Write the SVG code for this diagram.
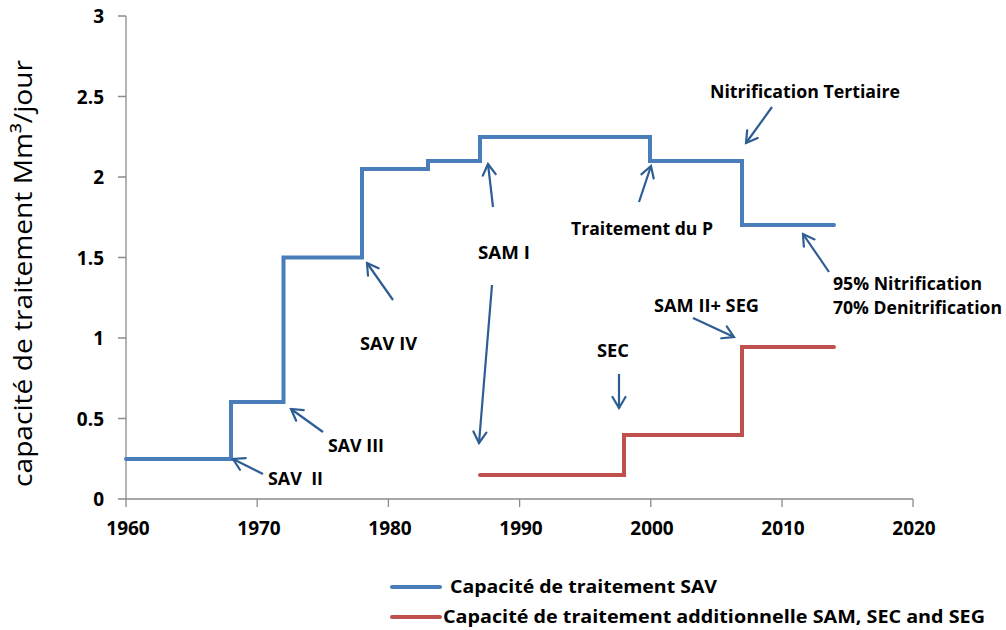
<svg xmlns="http://www.w3.org/2000/svg" width="1006" height="630" viewBox="0 0 1006 630">
  <style>
    .axis { stroke: #8c8c8c; stroke-width: 1.3; fill: none; }
    .tick { font-family: "Open Sans", "Liberation Sans", Arial, sans-serif; font-weight: bold; font-size: 19px; fill: #000; }
    .note { font-family: "Open Sans", "Liberation Sans", Arial, sans-serif; font-weight: bold; font-size: 17.5px; fill: #000; }
    .legend { font-family: "Open Sans", "Liberation Sans", Arial, sans-serif; font-weight: bold; font-size: 18px; fill: #000; }
    .title { font-family: "Open Sans", "Liberation Sans", Arial, sans-serif; font-size: 26px; fill: #000; }
    .sav { stroke: #4a7ebb; stroke-width: 4; fill: none; stroke-linejoin: miter; stroke-linecap: round; }
    .add { stroke: #c0504d; stroke-width: 4; fill: none; stroke-linejoin: miter; stroke-linecap: round; }
    .pointer { stroke: #2e5d93; stroke-width: 2.2; fill: none; marker-end: url(#head); }
  </style>
  <defs>
    <marker id="head" markerUnits="userSpaceOnUse" viewBox="-14 -8 16 16" refX="0" refY="0" markerWidth="16" markerHeight="16" orient="auto">
      <path d="M-11,-6.5 L0,0 L-11,6.5" fill="none" stroke="#2e5d93" stroke-width="2.2" stroke-linecap="round" stroke-linejoin="miter"/>
    </marker>
  </defs>

  <rect width="1006" height="630" fill="#fff"/>

  <!-- axes -->
  <g id="axes">
    <path class="axis" d="M126,16 V499 H913"/>
    <path class="axis" d="M118,16 H126 M118,96.5 H126 M118,177 H126 M118,257.5 H126 M118,338 H126 M118,418.5 H126 M118,499 H126"/>
    <path class="axis" d="M126,499 V507 M257.2,499 V507 M388.4,499 V507 M519.6,499 V507 M650.8,499 V507 M782,499 V507 M913,499 V507"/>
    <g class="tick" text-anchor="end">
      <text x="104" y="23">3</text>
      <text x="104" y="103.5">2.5</text>
      <text x="104" y="184">2</text>
      <text x="104" y="264.5">1.5</text>
      <text x="104" y="345">1</text>
      <text x="104" y="425.5">0.5</text>
      <text x="104" y="506">0</text>
    </g>
    <g class="tick" text-anchor="middle">
      <text x="128" y="535">1960</text>
      <text x="259" y="535">1970</text>
      <text x="390" y="535">1980</text>
      <text x="521" y="535">1990</text>
      <text x="652" y="535">2000</text>
      <text x="783" y="535">2010</text>
      <text x="914" y="535">2020</text>
    </g>
    <text class="title" transform="translate(32,273.5) rotate(-90)" text-anchor="middle" textLength="427" lengthAdjust="spacingAndGlyphs">capacité de traitement Mm³/jour</text>
  </g>

  <!-- data series -->
  <g id="series-sav">
    <polyline class="sav" points="126,459 231,459 231,402 283.5,402 283.5,257.5 362,257.5 362,169 428,169 428,161 480,161 480,137 650,137 650,161 742,161 742,225 834,225"/>
  </g>
  <g id="series-additional">
    <polyline class="add" points="480,475 624,475 624,435 742,435 742,347 834,347"/>
  </g>

  <!-- annotation pointers -->
  <g id="connectors">
    <line class="pointer" x1="263" y1="474" x2="233" y2="459"/>
    <line class="pointer" x1="323" y1="432" x2="291" y2="409"/>
    <line class="pointer" x1="393" y1="300" x2="367" y2="263"/>
    <line class="pointer" x1="493" y1="207" x2="488" y2="164"/>
    <line class="pointer" x1="492" y1="285" x2="479" y2="443"/>
    <line class="pointer" x1="639" y1="202" x2="651" y2="166"/>
    <line class="pointer" x1="772" y1="107" x2="746" y2="143"/>
    <line class="pointer" x1="829" y1="272" x2="803" y2="234"/>
    <line class="pointer" x1="619" y1="374" x2="619" y2="408"/>
    <line class="pointer" x1="693" y1="318" x2="734" y2="337"/>
  </g>

  <!-- annotation labels -->
  <g id="label-sav2"><text class="note" x="268" y="485" textLength="55" lengthAdjust="spacingAndGlyphs" xml:space="preserve">SAV  II</text></g>
  <g id="label-sav3"><text class="note" x="328" y="452" textLength="56" lengthAdjust="spacingAndGlyphs">SAV III</text></g>
  <g id="label-sav4"><text class="note" x="360" y="350" textLength="57" lengthAdjust="spacingAndGlyphs">SAV IV</text></g>
  <g id="label-sam1"><text class="note" x="478" y="259" textLength="52" lengthAdjust="spacingAndGlyphs">SAM I</text></g>
  <g id="label-phosphore"><text class="note" x="571" y="235" textLength="142" lengthAdjust="spacingAndGlyphs">Traitement du P</text></g>
  <g id="label-nitrif-tert"><text class="note" x="710" y="98" textLength="190" lengthAdjust="spacingAndGlyphs">Nitrification Tertiaire</text></g>
  <g id="label-nitrif-denitrif">
    <text class="note" x="833" y="290" textLength="149" lengthAdjust="spacingAndGlyphs">95% Nitrification</text>
    <text class="note" x="833" y="314" textLength="169" lengthAdjust="spacingAndGlyphs">70% Denitrification</text>
  </g>
  <g id="label-sam2-seg"><text class="note" x="654" y="312" textLength="105" lengthAdjust="spacingAndGlyphs">SAM II+ SEG</text></g>
  <g id="label-sec"><text class="note" x="597" y="357" textLength="32" lengthAdjust="spacingAndGlyphs">SEC</text></g>

  <!-- legend -->
  <g id="legend">
    <line x1="392" y1="587" x2="440" y2="587" stroke="#4a7ebb" stroke-width="4" stroke-linecap="round"/>
    <text class="legend" x="450" y="593" textLength="267" lengthAdjust="spacingAndGlyphs">Capacité de traitement SAV</text>
    <line x1="392" y1="617" x2="440" y2="617" stroke="#c0504d" stroke-width="4" stroke-linecap="round"/>
    <text class="legend" x="443" y="623" textLength="542" lengthAdjust="spacingAndGlyphs">Capacité de traitement additionnelle SAM, SEC and SEG</text>
  </g>
</svg>
